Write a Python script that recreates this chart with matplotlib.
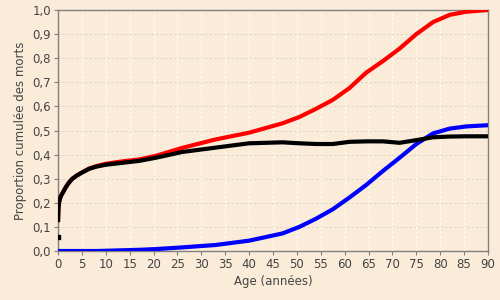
"""
Proportion cumulée des morts selon l'âge.
"""
import matplotlib
matplotlib.use("Agg")
import matplotlib.pyplot as plt
from matplotlib.ticker import FuncFormatter

BG = "#faecd8"

ages = [0, 0, 0.1, 0.3, 0.6, 1, 1.7, 2.3, 3, 4, 5, 6.5, 8, 10, 13.5, 17, 20.5, 26,
        33, 40, 47, 50.5, 54, 57.5, 61, 64.5, 68, 71.5, 75, 78.5, 82, 85.5, 90]
red = [0.12, 0.12, 0.18, 0.21, 0.228, 0.242, 0.267, 0.284, 0.30, 0.314, 0.326,
       0.342, 0.352, 0.362, 0.372, 0.38, 0.395, 0.428, 0.463, 0.491, 0.53, 0.556,
       0.59, 0.627, 0.676, 0.740, 0.788, 0.84, 0.90, 0.95, 0.98, 0.993, 1.0]
black = [0.06, 0.12, 0.18, 0.21, 0.228, 0.242, 0.267, 0.284, 0.30, 0.314, 0.325,
         0.341, 0.350, 0.358, 0.366, 0.374, 0.387, 0.411, 0.429, 0.447, 0.451, 0.447,
         0.444, 0.444, 0.453, 0.455, 0.455, 0.449, 0.46, 0.472, 0.475, 0.476, 0.476]
blue = [0, 0, 0, 0, 0, 0, 0, 0, 0, 0, 0, 0, 0, 0.001, 0.003, 0.005, 0.008, 0.015,
        0.025, 0.043, 0.073, 0.100, 0.134, 0.173, 0.222, 0.274, 0.332, 0.387, 0.444,
        0.488, 0.508, 0.517, 0.522]

x_ticks = list(range(0, 91, 5))
y_ticks = [i / 10 for i in range(11)]


def _comma(v, pos):
    return ("%.1f" % v).replace(".", ",")


fig = plt.figure(figsize=(5, 3), dpi=100, facecolor=BG)
ax = fig.add_axes([0.116, 0.1633, 0.86, 0.8033], facecolor=BG)

ax.plot(ages, red, color="#ff0000", lw=3.0, solid_capstyle="butt", zorder=3)
ax.plot(ages, blue, color="#0000ff", lw=3.0, solid_capstyle="butt", zorder=3)
ax.plot(ages[1:], black[1:], color="#000000", lw=3.0, solid_capstyle="butt", zorder=4)
ax.plot(ages[:1], black[:1], "s", color="#000000", ms=2.5, zorder=4)

ax.set_xlim(0, 90)
ax.set_ylim(0, 1)
ax.set_xticks(x_ticks)
ax.set_yticks(y_ticks)
ax.yaxis.set_major_formatter(FuncFormatter(_comma))

for y in y_ticks[1:-1]:
    ax.axhline(y, color="#dcd6cc", lw=0.8, ls=(0, (2, 2)), zorder=1)
for x in x_ticks[1:-1]:
    ax.axvline(x, color="#ffffff", lw=0.8, ls=(0, (2, 2)), zorder=1)

for s in ax.spines.values():
    s.set_color("#808080")
    s.set_linewidth(1.0)
ax.tick_params(colors="#808080", labelcolor="#444444", labelsize=8.5,
               length=3, width=0.8, pad=2)

ax.set_xlabel("Age (années)", fontsize=8.5, color="#444444", labelpad=3)
ax.set_ylabel("Proportion cumulée des morts", fontsize=8.5, color="#444444", labelpad=4)

fig.savefig("out.png", dpi=100, facecolor=BG)
